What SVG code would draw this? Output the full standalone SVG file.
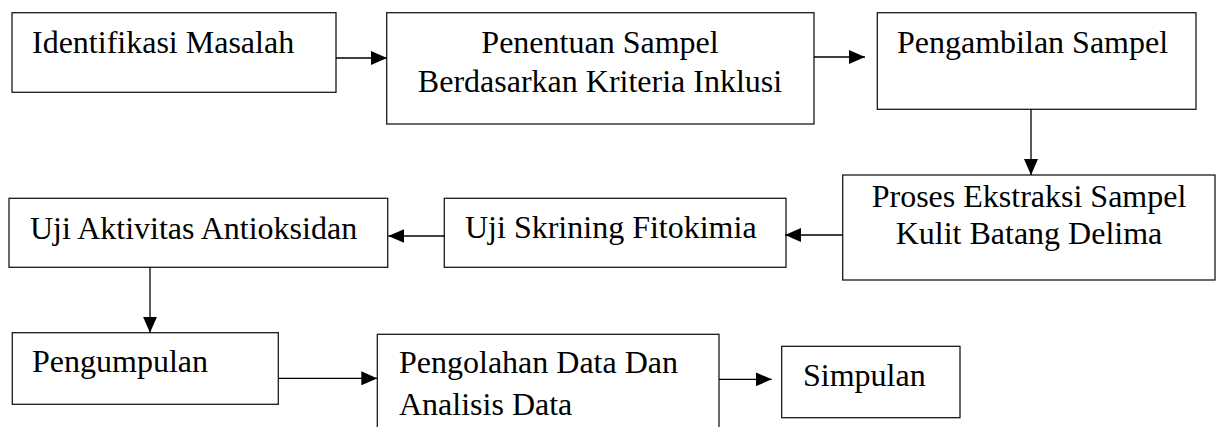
<svg xmlns="http://www.w3.org/2000/svg" width="1220" height="427" viewBox="0 0 1220 427">
<style>
  .box { fill: #ffffff; stroke: #1a1a1a; stroke-width: 1.3; }
  .lbl { font-family: 'Liberation Serif', 'Times New Roman', serif; font-size: 32px; fill: #000000; }
  .mid { text-anchor: middle; }
  .conn { stroke: #000000; stroke-width: 1.3; fill: none; marker-end: url(#arr); }
</style>
<defs>
  <marker id="arr" markerUnits="userSpaceOnUse" markerWidth="16" markerHeight="14" refX="16" refY="7" orient="auto">
    <path d="M0,0 L16,7 L0,14 Z" fill="#000000"/>
  </marker>
</defs>
<rect width="1220" height="427" fill="#ffffff"/>
<g id="n1">
  <rect class="box" x="12" y="12.7" width="324" height="79.6"/>
  <text class="lbl" x="32" y="53">Identifikasi Masalah</text>
</g>
<g id="n2">
  <rect class="box" x="386.7" y="12.7" width="427.3" height="111.3"/>
  <text class="lbl mid" x="600" y="53">Penentuan Sampel</text>
  <text class="lbl mid" x="600" y="92">Berdasarkan Kriteria Inklusi</text>
</g>
<g id="n3">
  <rect class="box" x="877.3" y="12.7" width="318.7" height="96.6"/>
  <text class="lbl" x="897" y="53">Pengambilan Sampel</text>
</g>
<g id="n4">
  <rect class="box" x="842.7" y="175" width="372.3" height="105"/>
  <text class="lbl mid" x="1029" y="207">Proses Ekstraksi Sampel</text>
  <text class="lbl mid" x="1029" y="244">Kulit Batang Delima</text>
</g>
<g id="n5">
  <rect class="box" x="444.3" y="198.3" width="341.7" height="69"/>
  <text class="lbl" x="465" y="238">Uji Skrining Fitokimia</text>
</g>
<g id="n6">
  <rect class="box" x="9" y="198.3" width="378.7" height="69"/>
  <text class="lbl" x="30" y="239">Uji Aktivitas Antioksidan</text>
</g>
<g id="n7">
  <rect class="box" x="12.3" y="332.7" width="266" height="71.6"/>
  <text class="lbl" x="32" y="372">Pengumpulan</text>
</g>
<g id="n8">
  <rect class="box" x="377.3" y="334.3" width="341.7" height="110"/>
  <text class="lbl" x="399" y="373">Pengolahan Data Dan</text>
  <text class="lbl" x="399" y="415">Analisis Data</text>
</g>
<g id="n9">
  <rect class="box" x="781.7" y="346.3" width="178.3" height="71.4"/>
  <text class="lbl" x="803" y="386">Simpulan</text>
</g>
<g id="connectors">
  <line class="conn" x1="336" y1="58" x2="387" y2="58"/>
  <line class="conn" x1="814" y1="57" x2="865" y2="57"/>
  <line class="conn" x1="1031" y1="109.3" x2="1031" y2="175"/>
  <line class="conn" x1="842.7" y1="235" x2="785" y2="235"/>
  <line class="conn" x1="444.3" y1="236" x2="388.3" y2="236"/>
  <line class="conn" x1="150" y1="267.3" x2="150" y2="332.7"/>
  <line class="conn" x1="278.3" y1="378.3" x2="377.3" y2="378.3"/>
  <line class="conn" x1="719" y1="379.3" x2="771.7" y2="379.3"/>
</g>
</svg>
